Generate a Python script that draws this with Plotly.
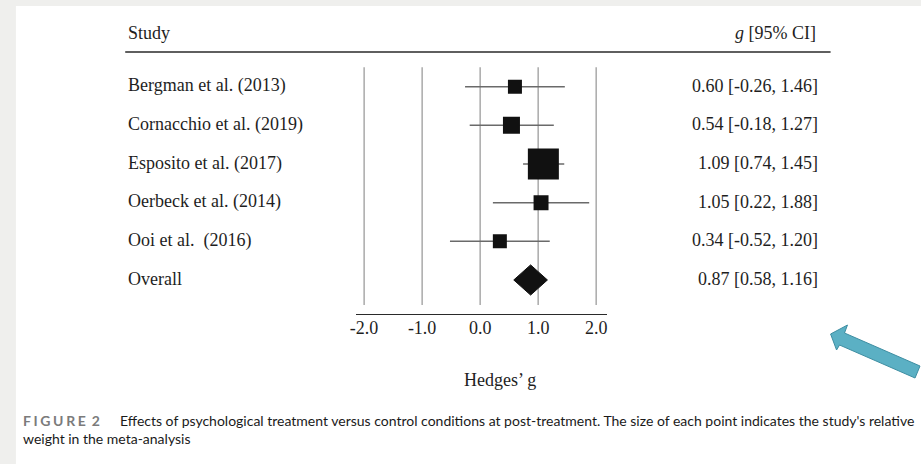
import plotly.graph_objects as go

# ---------------- data ----------------
studies = ["Bergman et al. (2013)", "Cornacchio et al. (2019)", "Esposito et al. (2017)",
           "Oerbeck et al. (2014)", "Ooi et al.  (2016)"]
g_est = [0.60, 0.54, 1.09, 1.05, 0.34]
ci_low = [-0.26, -0.18, 0.74, 0.22, -0.52]
ci_high = [1.46, 1.27, 1.45, 1.88, 1.20]
weights = [10.5, 15.5, 51.5, 12.0, 10.5]   # relative weight (%)

overall_label = "Overall"
overall_est = 0.87
overall_low = 0.58
overall_high = 1.16

tick_vals = [-2.0, -1.0, 0.0, 1.0, 2.0]
tick_text = ["-2.0", "-1.0", "0.0", "1.0", "2.0"]

# ---------------- layout helpers ----------------
W, H = 921, 464
def px(x):
    return x / W
def py(y):
    return 1 - y / H

SERIF = "Liberation Serif, Times New Roman, serif"
SANS = "Lato, Noto Sans, sans-serif"
TXT = "#1e1e1e"
FS = 18

rows = list(range(len(studies)))
overall_row = len(studies)

fig = go.Figure()

# vertical reference lines at tick values
gx, gy = [], []
for v in tick_vals:
    gx += [v, v, None]
    gy += [-0.5, 5.65, None]
fig.add_trace(go.Scatter(x=gx, y=gy, mode="lines", line=dict(color="#9c9c9c", width=1.3),
                         hoverinfo="skip", showlegend=False))

# study CIs + weighted squares
fig.add_trace(go.Scatter(
    x=g_est, y=rows, mode="markers",
    marker=dict(symbol="square", color="#111111", opacity=1,
                size=[4.32 * (w ** 0.5) for w in weights], line=dict(width=0)),
    error_x=dict(type="data", symmetric=False,
                 array=[h - e for h, e in zip(ci_high, g_est)],
                 arrayminus=[e - l for e, l in zip(g_est, ci_low)],
                 color="#6a6a6a", thickness=1.5, width=0),
    showlegend=False))

# overall diamond
dh = 0.39
fig.add_trace(go.Scatter(
    x=[overall_low, overall_est, overall_high, overall_est, overall_low],
    y=[overall_row, overall_row - dh, overall_row, overall_row + dh, overall_row],
    mode="lines", fill="toself", fillcolor="#111111", line=dict(color="#111111", width=1),
    showlegend=False))

annotations = []
# headers
annotations.append(dict(text="Study", x=px(121), y=py(33), xref="paper", yref="paper",
                        xanchor="left", yanchor="middle", showarrow=False,
                        font=dict(family=SERIF, size=FS, color=TXT)))
annotations.append(dict(text="<i>g</i> [95% CI]", x=px(817), y=py(33), xref="paper", yref="paper",
                        xanchor="right", yanchor="middle", showarrow=False,
                        font=dict(family=SERIF, size=FS, color=TXT)))

labels = studies + [overall_label]
ests = g_est + [overall_est]
lows = ci_low + [overall_low]
highs = ci_high + [overall_high]
for i, (lab, e, l, h) in enumerate(zip(labels, ests, lows, highs)):
    annotations.append(dict(text=lab, x=px(121), y=i, xref="paper", yref="y",
                            xanchor="left", yanchor="middle", yshift=1, showarrow=False,
                            font=dict(family=SERIF, size=FS, color=TXT)))
    annotations.append(dict(text=f"{e:.2f} [{l:.2f}, {h:.2f}]", x=px(819), y=i,
                            xref="paper", yref="y", xanchor="right", yanchor="middle",
                            yshift=1, showarrow=False,
                            font=dict(family=SERIF, size=FS, color=TXT)))

annotations.append(dict(text="Hedges’ g", x=px(497), y=py(380), xref="paper", yref="paper",
                        xanchor="center", yanchor="middle", showarrow=False,
                        font=dict(family=SERIF, size=FS, color=TXT)))

# caption
gap = "\u2009\u200a"
annotations.append(dict(
    text="<b>" + gap.join("FIGURE") + gap + " 2</b>", x=px(15), y=py(420),
    xref="paper", yref="paper", xanchor="left", yanchor="middle", showarrow=False,
    font=dict(family=SANS, size=14, color="#7b7b7b")))
annotations.append(dict(
    text="Effects of psychological treatment versus control conditions at post-treatment. "
         "The size of each point indicates the study's relative",
    x=px(113), y=py(420), xref="paper", yref="paper",
    xanchor="left", yanchor="middle", showarrow=False,
    font=dict(family=SANS, size=14, color="#1a1a1a")))
annotations.append(dict(
    text="weight in the meta-analysis", x=px(15), y=py(438), xref="paper", yref="paper",
    xanchor="left", yanchor="middle", showarrow=False,
    font=dict(family=SANS, size=14, color="#1a1a1a")))

shapes = [
    # white page over grey frame
    dict(type="rect", xref="paper", yref="paper", x0=px(10), x1=1, y0=0, y1=py(6),
         fillcolor="white", line=dict(width=0), layer="below"),
    # header rule
    dict(type="line", xref="paper", yref="paper", x0=px(120), x1=px(830), y0=py(52), y1=py(52),
         line=dict(color="#2a2a2a", width=1.4)),
    # decorative arrow
    dict(type="path", xref="paper", yref="paper",
         path="M {} {} L {} {} L {} {} L {} {} L {} {} L {} {} L {} {} Z".format(
             px(830), py(334), px(847), py(325), px(844), py(333),
             px(920), py(366), px(915), py(378), px(839), py(345), px(836), py(350)),
         fillcolor="#5bb0c4", line=dict(color="#3e8ea2", width=1)),
]

fig.update_layout(
    width=W, height=H,
    margin=dict(l=0, r=0, t=0, b=0),
    paper_bgcolor="#efefed",
    plot_bgcolor="#fcfbf8",
    showlegend=False,
    xaxis=dict(domain=[px(352), px(605)], range=[-2.145, 2.188],
               tickvals=tick_vals, ticktext=tick_text, showgrid=False, zeroline=False,
               showline=True, linecolor="#2a2a2a", linewidth=1.4, ticks="",
               ticklabelstandoff=-3,
               tickfont=dict(family=SERIF, size=FS, color=TXT), fixedrange=True),
    yaxis=dict(domain=[py(314), py(60)], range=[5.88, -0.69], visible=False,
               showgrid=False, zeroline=False, fixedrange=True),
    annotations=annotations,
    shapes=shapes,
)

fig.write_html("out.html", config={"displayModeBar": False},
               post_script="document.body.style.margin='0';document.body.style.overflow='hidden';")
